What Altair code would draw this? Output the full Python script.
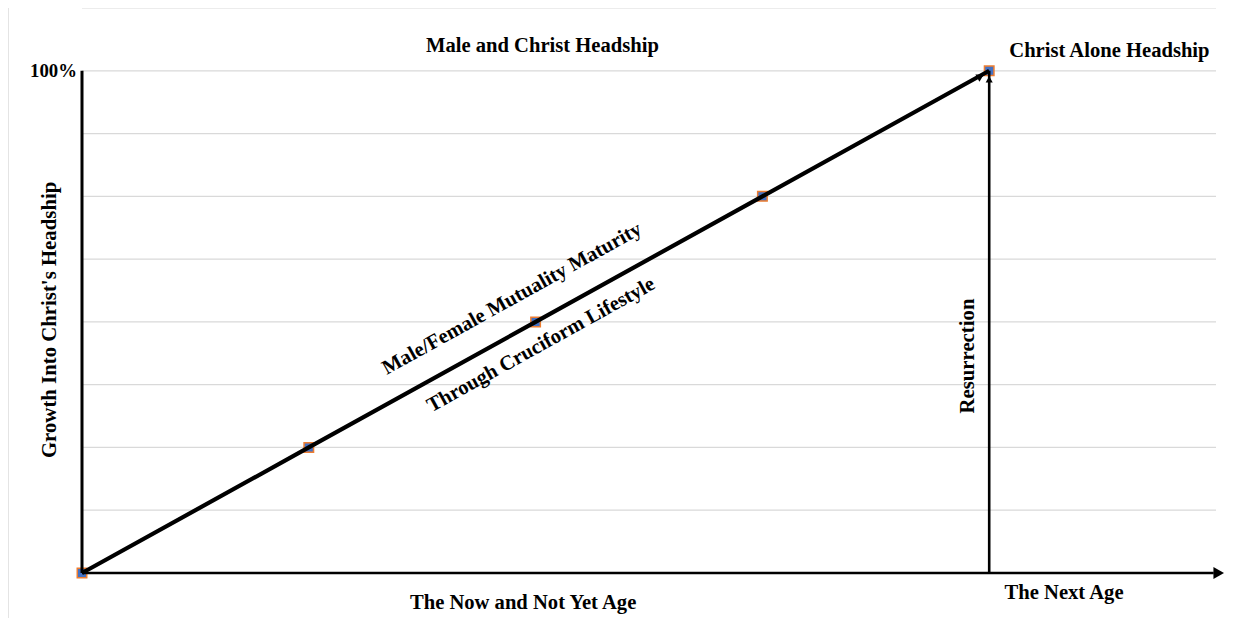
import altair as alt
import pandas as pd

# ---- data ----
x_steps = [0, 1, 2, 3, 4]
growth = [0, 25, 50, 75, 100]
grid_levels = [12.5, 25, 37.5, 50, 62.5, 75, 87.5, 100, 112.5]

label_text = ["Male and Christ Headship", "Christ Alone Headship",
              "The Now and Not Yet Age", "The Next Age"]
label_x = [2.03, 4.53, 1.945, 4.33]
label_y = [104.9, 103.9, -5.97, -3.98]

vert_text = ["Growth Into Christ's Headship", "Resurrection"]
vert_x = [-0.141, 3.906]
vert_y = [50.4, 43.2]

diag_text = ["Male/Female Mutuality Maturity", "Through Cruciform Lifestyle"]
diag_x = [1.896, 2.024]
diag_y = [54.6, 45.4]

tick_label = ["100%"]
tick_x = [-0.022]
tick_y = [100]

# axis / arrow lines (x0, x1, y0, y1, width)
line_x0 = [0, 0, 4]
line_x1 = [4.99, 0, 4]
line_y0 = [0, 0, 0]
line_y1 = [0, 100, 100]
line_w = [2.4, 3, 2.6]

arrow_x = [5.012, 4.0, 3.962]
arrow_y = [0, 98.3, 98.9]
arrow_shape = ["triangle-right", "triangle-up", "triangle-right"]
arrow_angle = [0, 0, 331]
arrow_size = [150, 50, 70]

frame_x = [-0.326]
frame_y0 = [-10.5]
frame_y1 = [112.5]

FONT = "Liberation Serif"
FS = 20.6
xs = alt.Scale(domain=[0, 5], nice=False, zero=False)
ys = alt.Scale(domain=[0, 112.5], nice=False, zero=False)

frame = alt.Chart(pd.DataFrame({"x": frame_x, "y0": frame_y0, "y1": frame_y1})).mark_rule(
    color="#d0d0d0", strokeWidth=1
).encode(x=alt.X("x:Q", scale=xs, axis=None), y=alt.Y("y0:Q", scale=ys, axis=None), y2="y1:Q")

grid = alt.Chart(pd.DataFrame({"y": grid_levels, "x0": [0] * len(grid_levels),
                               "x1": [5] * len(grid_levels)})).mark_rule(
    color="#d9d9d9", strokeWidth=1.2
).encode(x=alt.X("x0:Q", scale=xs, axis=None), x2="x1:Q", y=alt.Y("y:Q", scale=ys, axis=None))

pts = pd.DataFrame({"x": x_steps, "y": growth})
markers = alt.Chart(pts).mark_square(
    size=90, filled=True, color="#4472C4", stroke="#ED7D31", strokeWidth=1.5, opacity=1
).encode(x=alt.X("x:Q", scale=xs, axis=None), y=alt.Y("y:Q", scale=ys, axis=None))

diag = alt.Chart(pts).mark_line(color="black", strokeWidth=4.2).encode(
    x=alt.X("x:Q", scale=xs, axis=None), y=alt.Y("y:Q", scale=ys, axis=None))

lines = alt.Chart(pd.DataFrame({"x0": line_x0, "x1": line_x1, "y0": line_y0,
                                "y1": line_y1, "w": line_w})).mark_rule(color="black").encode(
    x=alt.X("x0:Q", scale=xs, axis=None), x2="x1:Q",
    y=alt.Y("y0:Q", scale=ys, axis=None), y2="y1:Q",
    strokeWidth=alt.StrokeWidth("w:Q", scale=None))

arrows = alt.Chart(pd.DataFrame({"x": arrow_x, "y": arrow_y, "shape": arrow_shape,
                                 "ang": arrow_angle, "s": arrow_size})).mark_point(
    filled=True, color="black", opacity=1
).encode(
    x=alt.X("x:Q", scale=xs, axis=None), y=alt.Y("y:Q", scale=ys, axis=None),
    shape=alt.Shape("shape:N", scale=None), angle=alt.Angle("ang:Q", scale=None),
    size=alt.Size("s:Q", scale=None))

labels = alt.Chart(pd.DataFrame({"t": label_text, "x": label_x, "y": label_y})).mark_text(
    font=FONT, fontWeight="bold", fontSize=FS, color="black", baseline="middle", align="center"
).encode(x=alt.X("x:Q", scale=xs, axis=None), y=alt.Y("y:Q", scale=ys, axis=None), text="t:N")

vlabels = alt.Chart(pd.DataFrame({"t": vert_text, "x": vert_x, "y": vert_y})).mark_text(
    font=FONT, fontWeight="bold", fontSize=20.8, color="black", baseline="middle", align="center",
    angle=270
).encode(x=alt.X("x:Q", scale=xs, axis=None), y=alt.Y("y:Q", scale=ys, axis=None), text="t:N")

dlabels = alt.Chart(pd.DataFrame({"t": diag_text, "x": diag_x, "y": diag_y})).mark_text(
    font=FONT, fontWeight="bold", fontSize=FS, color="black", baseline="middle", align="center",
    angle=331
).encode(x=alt.X("x:Q", scale=xs, axis=None), y=alt.Y("y:Q", scale=ys, axis=None), text="t:N")

tlabel = alt.Chart(pd.DataFrame({"t": tick_label, "x": tick_x, "y": tick_y})).mark_text(
    font=FONT, fontWeight="bold", fontSize=18.8, color="black", baseline="middle", align="right"
).encode(x=alt.X("x:Q", scale=xs, axis=None), y=alt.Y("y:Q", scale=ys, axis=None), text="t:N")

chart = alt.layer(
    frame, grid, markers, lines, diag, arrows, labels, vlabels, dlabels, tlabel
).properties(
    width=1134, height=565,
    autosize=alt.AutoSizeParams(type="none"),
    padding={"left": 74, "top": 0, "right": 10, "bottom": 45},
    background="white",
).configure_view(stroke=None)

chart.save("out.html", embed_options={"renderer": "svg", "actions": False})
